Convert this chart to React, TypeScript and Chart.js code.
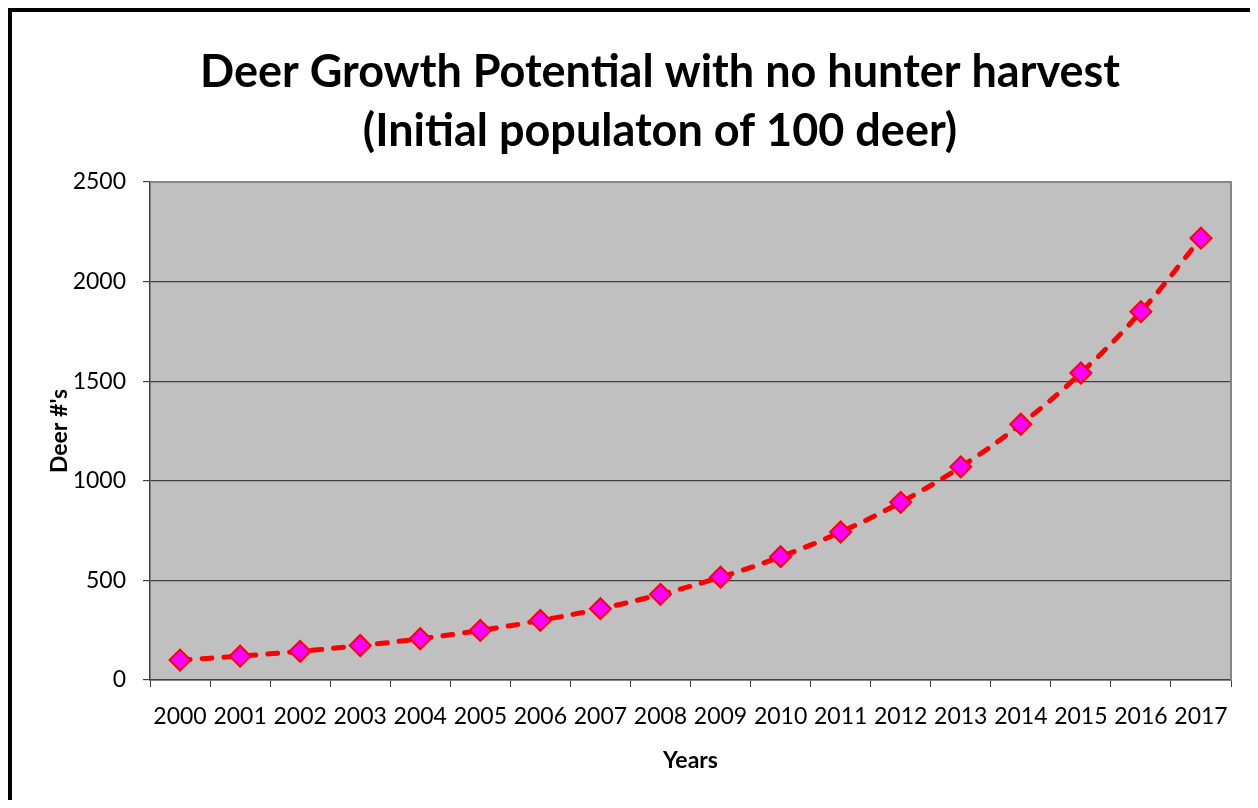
import React, { useEffect, useRef } from "react";
import { Chart, registerables } from "chart.js";

Chart.register(...registerables);

const years = ["2000","2001","2002","2003","2004","2005","2006","2007","2008","2009","2010","2011","2012","2013","2014","2015","2016","2017"];
const deer = [100, 120, 144, 173, 207, 249, 299, 358, 430, 516, 619, 743, 892, 1070, 1284, 1541, 1849, 2218];
const titleLines = ["Deer Growth Potential with no hunter harvest", "(Initial populaton of 100 deer)"];
const yAxisTitle = "Deer #'s";
const xAxisTitle = "Years";

const FONT = "Lato, 'Open Sans', sans-serif";
const W = 1242;
const H = 788;

const plotBg = {
  id: "plotBg",
  afterLayout(chart: any) {
    const t = chart.titleBlock;
    if (t) {
      t.left = 77;
      t.right = 1219;
      t.width = t.right - t.left;
    }
  },
  beforeDraw(chart: any) {
    const { ctx, chartArea: a } = chart;
    ctx.save();
    ctx.fillStyle = "#C0C0C0";
    ctx.fillRect(a.left, a.top, a.right - a.left, a.bottom - a.top);
    ctx.restore();
  },
  beforeDatasetsDraw(chart: any) {
    const { ctx, chartArea: a } = chart;
    ctx.save();
    ctx.strokeStyle = "#868686";
    ctx.lineWidth = 2;
    ctx.beginPath();
    ctx.moveTo(a.left, a.top);
    ctx.lineTo(a.right, a.top);
    ctx.lineTo(a.right, a.bottom);
    ctx.stroke();
    ctx.restore();
  },
};

export default function App() {
  const ref = useRef<HTMLCanvasElement>(null);
  useEffect(() => {
    if (!ref.current) return;
    const chart = new Chart(ref.current, {
      type: "line",
      data: {
        labels: years,
        datasets: [
          {
            data: deer,
            borderColor: "#FF0000",
            borderWidth: 5,
            borderDash: [10, 12],
            borderCapStyle: "round",
            tension: 0.4,
            pointStyle: "rectRot",
            pointRadius: 10.5,
            pointHoverRadius: 10.5,
            pointBackgroundColor: "#FF00FF",
            pointBorderColor: "#FF0000",
            pointBorderWidth: 2,
            fill: false,
          },
        ],
      },
      plugins: [plotBg],
      options: {
        responsive: false,
        animation: false,
        devicePixelRatio: 1,
        layout: { padding: { left: 0, right: 23, top: 0, bottom: 0 } },
        plugins: {
          legend: { display: false },
          tooltip: { enabled: false },
          title: {
            display: true,
            text: titleLines,
            color: "#000",
            font: { family: FONT, size: 45, weight: "bold", lineHeight: 1.333 },
            padding: { top: 30, bottom: 20 },
          },
        },
        scales: {
          x: {
            type: "category",
            offset: true,
            grid: {
              offset: true,
              drawOnChartArea: false,
              color: "#404040",
              tickLength: 7,
              tickColor: "#404040",
            },
            border: { color: "#404040", width: 1.5 },
            ticks: {
              color: "#000",
              font: { family: FONT, size: 23 },
              padding: 16,
              maxRotation: 0,
              autoSkip: false,
            },
            title: {
              display: true,
              text: xAxisTitle,
              color: "#000",
              font: { family: FONT, size: 23, weight: "bold", lineHeight: 1.2 },
              padding: { top: 0, bottom: 26 },
            },
            afterFit(scale: any) {
              scale.height = 120;
            },
          },
          y: {
            min: 0,
            max: 2500,
            ticks: {
              stepSize: 500,
              color: "#000",
              font: { family: FONT, size: 23 },
              padding: 17,
              callback: (v: any) => String(v),
            },
            grid: {
              color: "#404040",
              lineWidth: 1.2,
              tickLength: 7,
              tickColor: "#404040",
            },
            border: { color: "#404040", width: 1.5 },
            title: {
              display: true,
              text: yAxisTitle,
              color: "#000",
              font: { family: FONT, size: 23, weight: "bold", lineHeight: 1.2 },
              padding: { top: 34, bottom: 0 },
            },
            afterFit(scale: any) {
              scale.width = 138;
            },
          },
        },
      },
    } as any);
    return () => chart.destroy();
  }, []);

  return (
    <div
      style={{
        width: 1242,
        height: 788,
        borderLeft: "4px solid #000",
        borderTop: "4px solid #000",
        borderRight: "4px solid #000",
        background: "#fff",
      }}
    >
      <canvas ref={ref} width={W} height={H} style={{ display: "block", width: W, height: H }} />
    </div>
  );
}
